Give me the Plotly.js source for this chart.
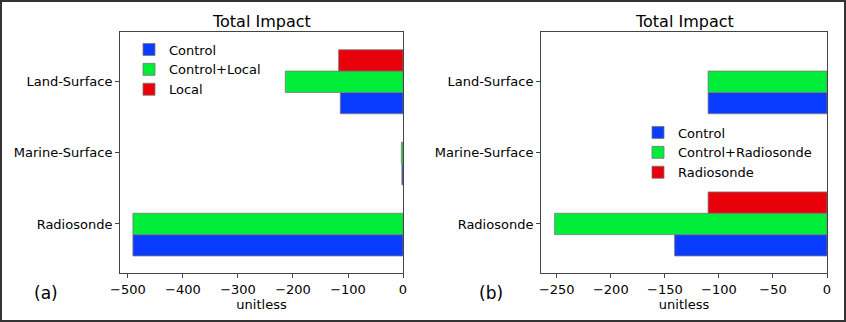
<!DOCTYPE html>
<html>
<head>
<meta charset="utf-8">
<script src="https://cdn.plot.ly/plotly-3.0.1.min.js"></script>
<style>
html,body{margin:0;padding:0;background:#fff;}
#chart{width:846px;height:322px;box-sizing:border-box;border:2px solid #333;}
</style>
</head>
<body>
<div id="chart"></div>
<script>
const categories = ['Radiosonde', 'Marine-Surface', 'Land-Surface'];
const seriesNamesA = ['Control', 'Control+Local', 'Local'];
const seriesNamesB = ['Control', 'Control+Radiosonde', 'Radiosonde'];
const controlA = [-491, -2, -114];
const controlLocalA = [-491, -3, -214];
const localA = [null, null, -117];
const controlB = [-141, null, -110];
const controlRadB = [-252, null, -110];
const radB = [-110, null, null];
const xTicksA = [-500, -400, -300, -200, -100, 0];
const xTicksB = [-250, -200, -150, -100, -50, 0];

const colors = ['#0a3cff', '#00ee3a', '#e8000b'];
const font = 'DejaVu Sans, sans-serif';

function bar(x, name, color, xa, ya, legend) {
  return {
    type: 'bar', orientation: 'h', x: x, y: categories, name: name,
    xaxis: xa, yaxis: ya, legend: legend,
    marker: {color: color, line: {color: '#777', width: 0.8}},
    hoverinfo: 'x+name'
  };
}

const data = [
  bar(controlA, seriesNamesA[0], colors[0], 'x', 'y', 'legend'),
  bar(controlLocalA, seriesNamesA[1], colors[1], 'x', 'y', 'legend'),
  bar(localA, seriesNamesA[2], colors[2], 'x', 'y', 'legend'),
  bar(controlB, seriesNamesB[0], colors[0], 'x2', 'y2', 'legend2'),
  bar(controlRadB, seriesNamesB[1], colors[1], 'x2', 'y2', 'legend2'),
  bar(radB, seriesNamesB[2], colors[2], 'x2', 'y2', 'legend2')
];

const W = 842, H = 318;
const ydom = [1 - 271 / H, 1 - 30 / H];
const axCommon = {
  showline: true, mirror: true, linecolor: '#444', linewidth: 1,
  ticks: 'outside', ticklen: 4, tickcolor: '#444', showgrid: false, zeroline: false,
  tickfont: {family: font, size: 13, color: '#000'}
};

const layout = {
  width: 842, height: 318,
  margin: {l: 0, r: 0, t: 0, b: 0},
  paper_bgcolor: '#fff', plot_bgcolor: '#fff',
  font: {family: font, size: 13, color: '#000'},
  barmode: 'group', bargap: 0.1, bargroupgap: 0,
  xaxis: Object.assign({}, axCommon, {
    domain: [118 / W, 401 / W], anchor: 'y', range: [-514.5, 0],
    tickmode: 'array', tickvals: xTicksA,
    title: {text: 'unitless', font: {family: font, size: 13}, standoff: 1}
  }),
  yaxis: Object.assign({}, axCommon, {
    domain: ydom, anchor: 'x', type: 'category',
    categoryorder: 'array', categoryarray: categories, range: [-0.69, 2.70]
  }),
  xaxis2: Object.assign({}, axCommon, {
    domain: [539 / W, 825 / W], anchor: 'y2', range: [-264.6, 0],
    tickmode: 'array', tickvals: xTicksB,
    title: {text: 'unitless', font: {family: font, size: 13}, standoff: 1}
  }),
  yaxis2: Object.assign({}, axCommon, {
    domain: ydom, anchor: 'x2', type: 'category',
    categoryorder: 'array', categoryarray: categories, range: [-0.69, 2.70]
  }),
  legend: {
    x: 127 / W, y: 1 - 32.5 / H, xanchor: 'left', yanchor: 'top',
    bgcolor: 'rgba(255,255,255,0)', font: {family: font, size: 13},
    traceorder: 'normal', itemwidth: 30, tracegroupgap: 0
  },
  legend2: {
    x: 636 / W, y: 1 - 115.5 / H, xanchor: 'left', yanchor: 'top',
    bgcolor: 'rgba(255,255,255,0)', font: {family: font, size: 13},
    traceorder: 'normal', itemwidth: 30, tracegroupgap: 0
  },
  annotations: [
    {text: 'Total Impact', xref: 'paper', yref: 'paper', x: 259.5 / W, y: 1 - 20 / H,
     showarrow: false, font: {family: font, size: 16}, xanchor: 'center', yanchor: 'middle'},
    {text: 'Total Impact', xref: 'paper', yref: 'paper', x: 682 / W, y: 1 - 20 / H,
     showarrow: false, font: {family: font, size: 16}, xanchor: 'center', yanchor: 'middle'},
    {text: '(a)', xref: 'paper', yref: 'paper', x: 44 / W, y: 1 - 291 / H,
     showarrow: false, font: {family: font, size: 17}, xanchor: 'center', yanchor: 'middle'},
    {text: '(b)', xref: 'paper', yref: 'paper', x: 489 / W, y: 1 - 291 / H,
     showarrow: false, font: {family: font, size: 17}, xanchor: 'center', yanchor: 'middle'}
  ],
  showlegend: true
};

Plotly.newPlot('chart', data, layout, {displayModeBar: false, staticPlot: true});
</script>
</body>
</html>
